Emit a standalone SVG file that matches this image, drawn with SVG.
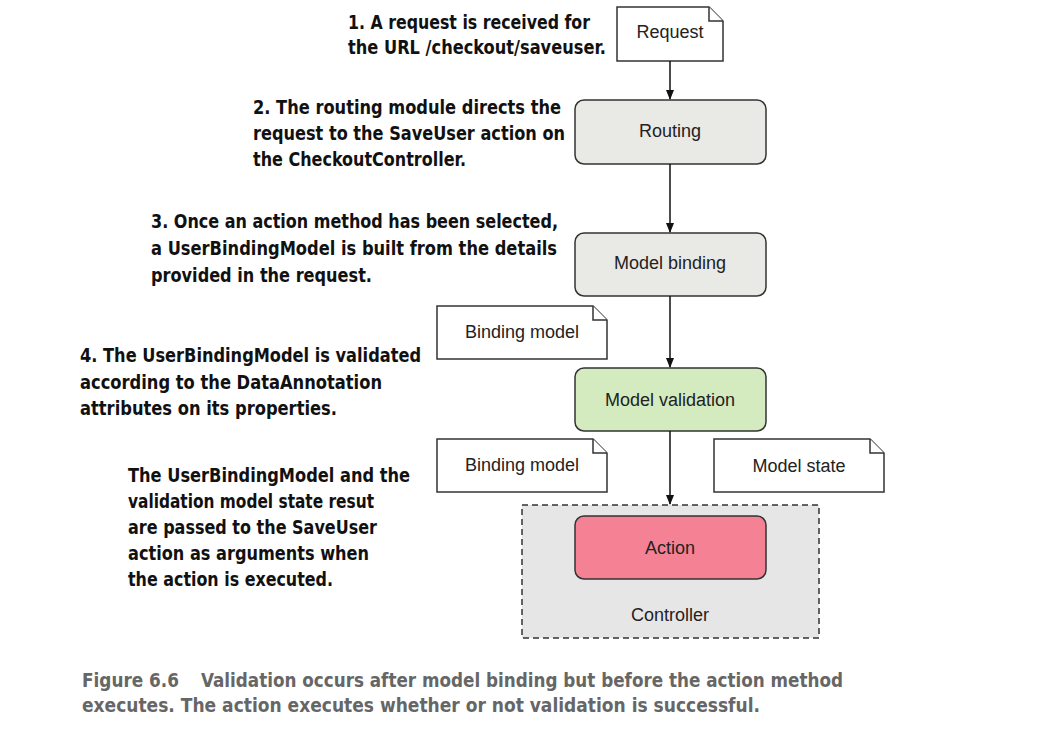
<svg xmlns="http://www.w3.org/2000/svg" width="1043" height="746" viewBox="0 0 1043 746">
<style>
.n{font-family:"Liberation Sans",Arial,sans-serif;font-size:18px;fill:#222;text-anchor:middle}
.a{font-family:"DejaVu Sans Condensed","Liberation Sans",sans-serif;font-weight:bold;font-size:20px;fill:#111}
.c{font-family:"DejaVu Sans Condensed","Liberation Sans",sans-serif;font-weight:bold;font-size:19px;fill:#666}
.box{stroke:#333;stroke-width:1.5}
.doc{fill:#fff;stroke:#333;stroke-width:1.5}
.e{stroke:#111;stroke-width:1.5;fill:none}
</style>
<defs>
<marker id="ah" markerWidth="10" markerHeight="14" refX="9" refY="5" orient="auto" markerUnits="userSpaceOnUse" viewBox="0 0 10 10">
<path d="M0,1 L10,5 L0,9 Z" fill="#111"/>
</marker>
</defs>
<rect width="1043" height="746" fill="#fff"/>

<g id="controller">
<rect x="522" y="505" width="297" height="133" fill="#e6e6e6" stroke="#333" stroke-width="1.5" stroke-dasharray="6,4"/>
<text class="n" x="670" y="621">Controller</text>
</g>

<g id="request">
<path class="doc" d="M617,7 H709 L723,21 V61 H617 Z"/>
<path class="doc" d="M709,7 V21 H723"/>
<text class="n" x="670" y="38">Request</text>
</g>

<g id="routing">
<rect class="box" x="575" y="100" width="191" height="64" rx="9" fill="#e9e9e5"/>
<text class="n" x="670" y="137">Routing</text>
</g>

<g id="model-binding">
<rect class="box" x="575" y="233" width="191" height="63" rx="9" fill="#e9e9e5"/>
<text class="n" x="670" y="269">Model binding</text>
</g>

<g id="binding-model-1">
<path class="doc" d="M437,306 H593 L607,320 V359 H437 Z"/>
<path class="doc" d="M593,306 V320 H607"/>
<text class="n" x="522" y="338">Binding model</text>
</g>

<g id="model-validation">
<rect class="box" x="575" y="368" width="191" height="63" rx="9" fill="#d4ebc0"/>
<text class="n" x="670" y="406">Model validation</text>
</g>

<g id="binding-model-2">
<path class="doc" d="M437,439 H593 L607,453 V492 H437 Z"/>
<path class="doc" d="M593,439 V453 H607"/>
<text class="n" x="522" y="471">Binding model</text>
</g>

<g id="model-state">
<path class="doc" d="M714,439 H870 L884,453 V492 H714 Z"/>
<path class="doc" d="M870,439 V453 H884"/>
<text class="n" x="799" y="472">Model state</text>
</g>

<g id="action">
<rect class="box" x="575" y="516" width="191" height="63" rx="9" fill="#f48194"/>
<text class="n" x="670" y="554">Action</text>
</g>

<g id="connectors">
<line class="e" x1="670" y1="61" x2="670" y2="99" marker-end="url(#ah)"/>
<line class="e" x1="670" y1="164" x2="670" y2="232" marker-end="url(#ah)"/>
<line class="e" x1="670" y1="296" x2="670" y2="367" marker-end="url(#ah)"/>
<line class="e" x1="670" y1="431" x2="670" y2="504" marker-end="url(#ah)"/>
</g>

<g id="annotations">
<text class="a" x="348" y="29" textLength="242" lengthAdjust="spacingAndGlyphs">1. A request is received for</text>
<text class="a" x="348" y="54" textLength="258" lengthAdjust="spacingAndGlyphs">the URL /checkout/saveuser.</text>

<text class="a" x="253" y="114" textLength="308" lengthAdjust="spacingAndGlyphs">2. The routing module directs the</text>
<text class="a" x="253" y="140" textLength="312" lengthAdjust="spacingAndGlyphs">request to the SaveUser action on</text>
<text class="a" x="253" y="166" textLength="213" lengthAdjust="spacingAndGlyphs">the CheckoutController.</text>

<text class="a" x="151" y="228" textLength="407" lengthAdjust="spacingAndGlyphs">3. Once an action method has been selected,</text>
<text class="a" x="151" y="255" textLength="406" lengthAdjust="spacingAndGlyphs">a UserBindingModel is built from the details</text>
<text class="a" x="151" y="282" textLength="221" lengthAdjust="spacingAndGlyphs">provided in the request.</text>

<text class="a" x="80" y="362" textLength="341" lengthAdjust="spacingAndGlyphs">4. The UserBindingModel is validated</text>
<text class="a" x="80" y="389" textLength="302" lengthAdjust="spacingAndGlyphs">according to the DataAnnotation</text>
<text class="a" x="80" y="415" textLength="257" lengthAdjust="spacingAndGlyphs">attributes on its properties.</text>

<text class="a" x="128" y="482" textLength="282" lengthAdjust="spacingAndGlyphs">The UserBindingModel and the</text>
<text class="a" x="128" y="508" textLength="246" lengthAdjust="spacingAndGlyphs">validation model state resut</text>
<text class="a" x="128" y="534" textLength="249" lengthAdjust="spacingAndGlyphs">are passed to the SaveUser</text>
<text class="a" x="128" y="560" textLength="241" lengthAdjust="spacingAndGlyphs">action as arguments when</text>
<text class="a" x="128" y="586" textLength="205" lengthAdjust="spacingAndGlyphs">the action is executed.</text>
</g>

<g id="caption">
<text class="c" x="82" y="687" textLength="97" lengthAdjust="spacingAndGlyphs">Figure 6.6</text>
<text class="c" x="201" y="687" textLength="642" lengthAdjust="spacingAndGlyphs">Validation occurs after model binding but before the action method</text>
<text class="c" x="82" y="712" textLength="678" lengthAdjust="spacingAndGlyphs">executes. The action executes whether or not validation is successful.</text>
</g>
</svg>
